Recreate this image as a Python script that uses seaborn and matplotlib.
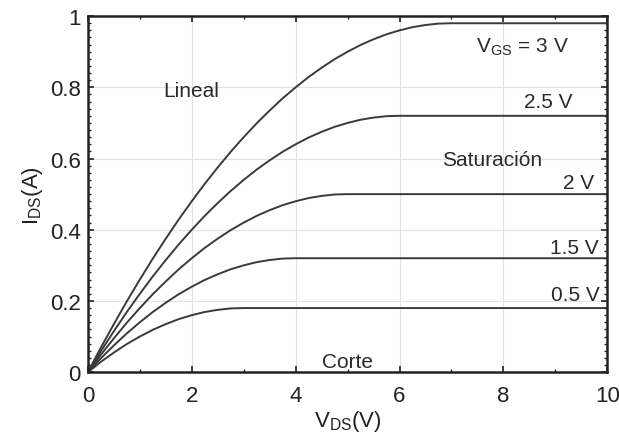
import matplotlib
matplotlib.use("Agg")
import matplotlib.pyplot as plt
import pandas as pd
import seaborn as sns
from matplotlib.ticker import MultipleLocator

sns.set_theme(style="white")
plt.rcParams["font.family"] = ["Liberation Sans", "DejaVu Sans"]
plt.rcParams["mathtext.fontset"] = "custom"
plt.rcParams["mathtext.rm"] = "Liberation Sans"

# curves (V_DS in volts, I_DS in amperes)
vds_3 = [0, 0.25, 0.5, 0.75, 1, 1.25, 1.5, 1.75, 2, 2.25, 2.5, 2.75, 3, 3.25, 3.5, 3.75,
         4, 4.25, 4.5, 4.75, 5, 5.25, 5.5, 5.75, 6, 6.25, 6.5, 6.75, 7, 10]
ids_3 = [0, 0.069, 0.135, 0.199, 0.26, 0.319, 0.375, 0.429, 0.48, 0.529, 0.575, 0.619,
         0.66, 0.699, 0.735, 0.769, 0.80, 0.829, 0.855, 0.879, 0.90, 0.919, 0.935, 0.949,
         0.96, 0.969, 0.975, 0.979, 0.98, 0.98]

vds_25 = [0, 0.25, 0.5, 0.75, 1, 1.25, 1.5, 1.75, 2, 2.25, 2.5, 2.75, 3, 3.25, 3.5, 3.75,
          4, 4.25, 4.5, 4.75, 5, 5.25, 5.5, 5.75, 6, 10]
ids_25 = [0, 0.059, 0.115, 0.169, 0.22, 0.269, 0.315, 0.359, 0.40, 0.439, 0.475, 0.509,
          0.54, 0.569, 0.595, 0.619, 0.64, 0.659, 0.675, 0.689, 0.70, 0.709, 0.715, 0.719,
          0.72, 0.72]

vds_2 = [0, 0.25, 0.5, 0.75, 1, 1.25, 1.5, 1.75, 2, 2.25, 2.5, 2.75, 3, 3.25, 3.5, 3.75,
         4, 4.25, 4.5, 4.75, 5, 10]
ids_2 = [0, 0.049, 0.095, 0.139, 0.18, 0.219, 0.255, 0.289, 0.32, 0.349, 0.375, 0.399,
         0.42, 0.439, 0.455, 0.469, 0.48, 0.489, 0.495, 0.499, 0.50, 0.50]

vds_15 = [0, 0.25, 0.5, 0.75, 1, 1.25, 1.5, 1.75, 2, 2.25, 2.5, 2.75, 3, 3.25, 3.5, 3.75, 4, 10]
ids_15 = [0, 0.039, 0.075, 0.109, 0.14, 0.169, 0.195, 0.219, 0.24, 0.259, 0.275, 0.289,
          0.30, 0.309, 0.315, 0.319, 0.32, 0.32]

vds_05 = [0, 0.25, 0.5, 0.75, 1, 1.25, 1.5, 1.75, 2, 2.25, 2.5, 2.75, 3, 10]
ids_05 = [0, 0.029, 0.055, 0.079, 0.10, 0.119, 0.135, 0.149, 0.16, 0.169, 0.175, 0.179, 0.18, 0.18]

curves = {
    "3 V": (vds_3, ids_3),
    "2.5 V": (vds_25, ids_25),
    "2 V": (vds_2, ids_2),
    "1.5 V": (vds_15, ids_15),
    "0.5 V": (vds_05, ids_05),
}

frames = []
for name, (xs, ys) in curves.items():
    frames.append(pd.DataFrame({"vds": xs, "ids": ys, "vgs": name}))
df = pd.concat(frames, ignore_index=True)

fig, ax = plt.subplots(figsize=(6.19, 4.39), dpi=100)
plt.subplots_adjust(left=0.142, right=0.981, top=0.961, bottom=0.150)

sns.lineplot(data=df, x="vds", y="ids", units="vgs", estimator=None,
             color="#3a3a3a", linewidth=1.4, sort=False, legend=False, ax=ax)

ax.set_xlim(0, 10)
ax.set_ylim(0, 1)
ax.xaxis.set_major_locator(MultipleLocator(2))
ax.xaxis.set_minor_locator(MultipleLocator(1))
ax.yaxis.set_minor_locator(MultipleLocator(0.02))
ax.set_yticks([0, 0.2, 0.4, 0.6, 0.8, 1])
ax.set_yticklabels(["0", "0.2", "0.4", "0.6", "0.8", "1"])

ax.grid(True, which="major", color="#e2e2e2", linewidth=0.8)
ax.tick_params(which="both", direction="in", top=True, right=True,
               bottom=True, left=True, colors="#222222", labelsize=16,
               labelcolor="#222222")
ax.tick_params(axis="x", which="major", pad=9)
ax.tick_params(axis="y", which="major", pad=5)
ax.tick_params(which="major", length=4, width=1.2)
ax.tick_params(which="minor", length=2.5, width=1)
for sp in ax.spines.values():
    sp.set_color("#222222")
    sp.set_linewidth(1.8)

ax.set_xlabel(r"V$_{\rm DS}$(V)", fontsize=16, color="#222222", labelpad=2)
ax.set_ylabel(r"I$_{\rm DS}$(A)", fontsize=16, color="#222222", labelpad=4)

tc = "#2a2a2a"
fs = 15
ax.text(1.99, 0.79, "Lineal", fontsize=fs, color=tc, ha="center", va="center")
ax.text(7.78, 0.598, "Saturación", fontsize=fs, color=tc, ha="center", va="center")
ax.text(5.0, 0.031, "Corte", fontsize=fs, color=tc, ha="center", va="center")
ax.text(9.27, 0.916, r"V$_{\rm GS}$ = 3 V", fontsize=fs, color=tc, ha="right", va="center")
ax.text(9.34, 0.76, "2.5 V", fontsize=fs, color=tc, ha="right", va="center")
ax.text(9.75, 0.534, "2 V", fontsize=fs, color=tc, ha="right", va="center")
ax.text(9.83, 0.351, "1.5 V", fontsize=fs, color=tc, ha="right", va="center")
ax.text(9.85, 0.219, "0.5 V", fontsize=fs, color=tc, ha="right", va="center")

fig.savefig("out.png", dpi=100)
